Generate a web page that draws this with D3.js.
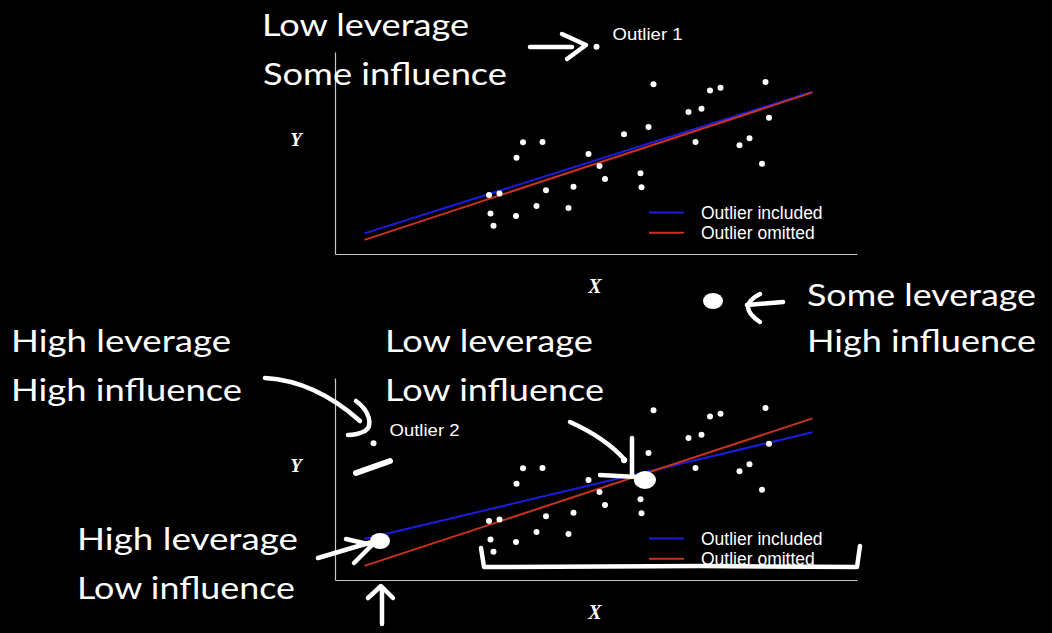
<!DOCTYPE html>
<html>
<head>
<meta charset="utf-8">
<script src="https://cdn.jsdelivr.net/npm/d3@7"></script>
<style>
  html, body { margin: 0; padding: 0; background: #000; }
  svg { display: block; }
  .hand { font-family: "Comic Sans MS", Lato, sans-serif; fill: #fff; }
  .legend text, .outlier-label { font-family: Helvetica, Arial, "Liberation Sans", sans-serif; fill: #fff; }
  .axis-label { font-family: "Liberation Serif", "Times New Roman", serif; font-weight: bold; font-style: italic; fill: #fff; }
</style>
</head>
<body>
<svg id="chart"></svg>
<script>
// shared cloud of points (x, y in plot units)
const points = [
  [63.7, 84.0], [75.0, 81.0], [77.1, 82.3], [86.1, 85.1], [70.7, 70.3],
  [73.3, 71.9], [86.8, 67.5], [62.7, 62.9], [57.8, 59.3], [72.1, 55.4],
  [80.9, 53.8], [82.9, 57.3], [85.4, 44.7], [37.6, 55.3], [41.5, 55.4],
  [36.3, 47.7], [50.7, 49.5], [52.9, 43.6], [54.0, 37.1], [61.1, 40.0],
  [61.3, 33.0], [47.7, 33.3], [42.2, 31.5], [30.8, 29.2], [32.9, 30.0],
  [40.3, 23.8], [46.7, 22.8], [31.1, 20.0], [36.2, 18.8], [31.7, 14.0]
];

const outlier1 = [52.3, 102.6];
const outlier2 = [7.7, 67.7];

// fitted lines, endpoints
const fitOmitted = [[5.9, 7.0], [95.5, 80.0]];
const fitIncluded1 = [[5.9, 10.2], [95.5, 80.3]];
const fitIncluded2 = [[5.9, 20.3], [95.5, 73.1]];

const legendLabels = ['Outlier included', 'Outlier omitted'];
const legendColors = ['#1c1ce0', '#c8321e'];

// hand written notes: text, x, baseline y, width
const notes = [
  ['Low leverage', 262, 36, 207],
  ['Some influence', 263, 85, 244],
  ['High leverage', 11, 352, 220],
  ['High influence', 11, 401, 231],
  ['Low leverage', 385, 352, 208],
  ['Low influence', 385, 401, 219],
  ['Some leverage', 807, 306, 229],
  ['High influence', 807, 352, 229],
  ['High leverage', 77, 550, 221],
  ['Low influence', 77, 599, 218]
];

// freehand strokes drawn over the figure
const strokes = [
  ['M530,47 L572,47', 4.5],
  ['M562,34 L586,45 L567,59', 4.5],
  ['M783,302 L747,305', 4.5],
  ['M760,294 Q736,306 760,322', 4.5],
  ['M265,378 C300,380 332,396 360,421', 4.5],
  ['M356,401 C370,411 373,426 365,431 C359,434 353,435 348,435', 4.5],
  ['M356,473 L390,461', 6],
  ['M570,422 C590,431 610,443 625,460', 4.5],
  ['M632,438 L632,476', 4.5],
  ['M600,475 L637,477', 4.5],
  ['M318,558 L372,542', 4.5],
  ['M346,539 L372,545 L354,563', 4.5],
  ['M382,624 L382,588', 4.5],
  ['M368,598 L381,586 L393,598', 4.5],
  ['M481,548 L484,567 L700,566 L857,567 L860,546', 4.5]
];
const blobs = [[645, 480, 11, 9], [380, 541, 10, 8], [713, 301, 10, 8]];

const width = 1052, height = 633;

const svg = d3.select('#chart')
  .attr('width', width)
  .attr('height', height);

svg.append('rect')
  .attr('width', width)
  .attr('height', height)
  .attr('fill', '#000');

const xScale = d3.scaleLinear()
  .domain([0, 104.4])
  .range([335, 857]);

function drawPanel(top, outlier, fitIncluded, outlierName) {
  const yScale = d3.scaleLinear()
    .domain([0, 100])
    .range([top + 202, top]);

  const g = svg.append('g');

  // axes: only the left and bottom spines, no ticks
  const xAxis = d3.axisBottom(xScale).tickValues([]).tickSizeOuter(0);
  const yAxis = d3.axisLeft(yScale).tickValues([]).tickSizeOuter(0);

  g.append('g')
    .attr('transform', `translate(0, ${top + 202})`)
    .call(xAxis)
    .select('.domain').attr('stroke', '#c8c8c8').attr('stroke-width', 1.2);
  g.append('g')
    .attr('transform', `translate(335, 0)`)
    .call(yAxis)
    .select('.domain').attr('stroke', '#c8c8c8').attr('stroke-width', 1.2);

  g.append('text')
    .attr('class', 'axis-label')
    .attr('x', 595)
    .attr('y', top + 241)
    .attr('text-anchor', 'middle')
    .attr('font-size', 20)
    .text('X');
  g.append('text')
    .attr('class', 'axis-label')
    .attr('x', 296)
    .attr('y', top + 94)
    .attr('text-anchor', 'middle')
    .attr('font-size', 19)
    .text('Y');

  const line = d3.line()
    .x(d => xScale(d[0]))
    .y(d => yScale(d[1]));

  g.append('path')
    .datum(fitIncluded)
    .attr('d', line)
    .attr('fill', 'none')
    .attr('stroke', legendColors[0])
    .attr('stroke-width', 2);
  g.append('path')
    .datum(fitOmitted)
    .attr('d', line)
    .attr('fill', 'none')
    .attr('stroke', legendColors[1])
    .attr('stroke-width', 2);

  g.selectAll('.pt')
    .data(points.concat([outlier]))
    .join('circle')
    .attr('class', 'pt')
    .attr('cx', d => xScale(d[0]))
    .attr('cy', d => yScale(d[1]))
    .attr('r', 3)
    .attr('fill', '#fff');

  g.append('text')
    .attr('class', 'outlier-label')
    .attr('x', xScale(outlier[0]) + 16)
    .attr('y', yScale(outlier[1]) - 7)
    .attr('font-size', 16.5)
    .attr('textLength', 70)
    .attr('lengthAdjust', 'spacingAndGlyphs')
    .text(outlierName);

  const legend = g.append('g').attr('class', 'legend');
  legendLabels.forEach((lab, i) => {
    const ly = top + 160.5 + i * 20.3;
    legend.append('line')
      .attr('x1', 649).attr('x2', 684)
      .attr('y1', ly).attr('y2', ly)
      .attr('stroke', legendColors[i])
      .attr('stroke-width', 2);
    legend.append('text')
      .attr('x', 701)
      .attr('y', ly + 6.5)
      .attr('font-size', 17.5)
      .text(lab);
  });
}

drawPanel(52, outlier1, fitIncluded1, 'Outlier 1');
drawPanel(378, outlier2, fitIncluded2, 'Outlier 2');

// annotations
const notesG = svg.append('g');
notesG.selectAll('text')
  .data(notes)
  .join('text')
  .attr('class', 'hand')
  .attr('x', d => d[1])
  .attr('y', d => d[2])
  .attr('font-size', 31)
  .attr('textLength', d => d[3])
  .attr('lengthAdjust', 'spacingAndGlyphs')
  .text(d => d[0]);

notesG.selectAll('path')
  .data(strokes)
  .join('path')
  .attr('d', d => d[0])
  .attr('fill', 'none')
  .attr('stroke', '#fff')
  .attr('stroke-width', d => d[1])
  .attr('stroke-linecap', 'round')
  .attr('stroke-linejoin', 'round');

notesG.selectAll('ellipse')
  .data(blobs)
  .join('ellipse')
  .attr('cx', d => d[0])
  .attr('cy', d => d[1])
  .attr('rx', d => d[2])
  .attr('ry', d => d[3])
  .attr('fill', '#fff');
</script>
</body>
</html>
